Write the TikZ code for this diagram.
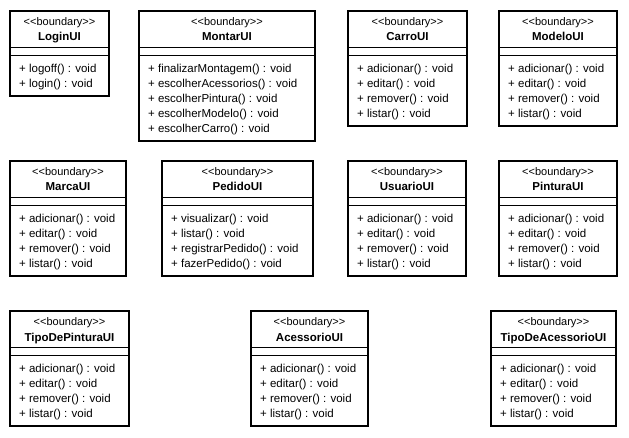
\documentclass[tikz,border=0pt]{standalone}
\usepackage{fontspec}
\setmainfont{Liberation Sans}
\usetikzlibrary{fit}
\tikzset{
  clsbox/.style={draw, line width=2pt, inner sep=0pt, fill=white},
  sepline/.style={line width=1pt},
  stereo/.style={anchor=base, inner sep=0pt, font=\fontsize{11}{13}\selectfont},
  clstitle/.style={anchor=base, inner sep=0pt, font=\fontsize{11.5}{13}\selectfont\bfseries},
  method/.style={anchor=base west, inner sep=0pt, font=\fontsize{11.5}{13}\selectfont},
}
% #1 id, #2 left, #3 top, #4 right, #5 bottom (outer pixel edges), #6 title, #7 methods
\newcommand{\umlcls}[7]{%
  \coordinate (#1-nw) at (#2+1,#3+1);
  \coordinate (#1-se) at (#4-1,#5-1);
  \node[clsbox, fit=(#1-nw)(#1-se)] (#1) {};
  \draw[sepline] ([yshift=-37.5pt]#1.north west) -- ([yshift=-37.5pt]#1.north east);
  \draw[sepline] ([yshift=-45.5pt]#1.north west) -- ([yshift=-45.5pt]#1.north east);
  \node[stereo] (#1-st) at ([yshift=-16pt]#1.north) {<\kern0pt<boundary>\kern0pt>};
  \node[clstitle] (#1-ti) at ([yshift=-31pt]#1.north) {#6};
  \foreach \m [count=\i] in {#7}
    \node[method] (#1-m\i) at ([xshift=10pt,yshift={-62.5pt-15pt*(\i-1)}]#1.north west) {\m};
}
\begin{document}
\begin{tikzpicture}[x=1pt,y=-1pt]
\useasboundingbox[fill=white] (0,0) rectangle (629,438);
% row 1
\umlcls{login}{9}{10}{110}{97}{LoginUI}{+ logoff() : void, + login() : void}
\umlcls{montar}{138}{10}{316}{142}{MontarUI}{+ finalizarMontagem() : void, + escolherAcessorios() : void, + escolherPintura() : void, + escolherModelo() : void, + escolherCarro() : void}
\umlcls{carro}{347}{10}{468}{127}{CarroUI}{+ adicionar() : void, + editar() : void, + remover() : void, + listar() : void}
\umlcls{modelo}{498}{10}{618}{127}{ModeloUI}{+ adicionar() : void, + editar() : void, + remover() : void, + listar() : void}
% row 2
\umlcls{marca}{9}{160}{127}{277}{MarcaUI}{+ adicionar() : void, + editar() : void, + remover() : void, + listar() : void}
\umlcls{pedido}{161}{160}{314}{277}{PedidoUI}{+ visualizar() : void, + listar() : void, + registrarPedido() : void, + fazerPedido() : void}
\umlcls{usuario}{347}{160}{467}{277}{UsuarioUI}{+ adicionar() : void, + editar() : void, + remover() : void, + listar() : void}
\umlcls{pintura}{498}{160}{618}{277}{PinturaUI}{+ adicionar() : void, + editar() : void, + remover() : void, + listar() : void}
% row 3
\umlcls{tipopintura}{9}{310}{130}{427}{TipoDePinturaUI}{+ adicionar() : void, + editar() : void, + remover() : void, + listar() : void}
\umlcls{acessorio}{250}{310}{369}{427}{AcessorioUI}{+ adicionar() : void, + editar() : void, + remover() : void, + listar() : void}
\umlcls{tipoacessorio}{490}{310}{617}{427}{TipoDeAcessorioUI}{+ adicionar() : void, + editar() : void, + remover() : void, + listar() : void}
\end{tikzpicture}
\end{document}
